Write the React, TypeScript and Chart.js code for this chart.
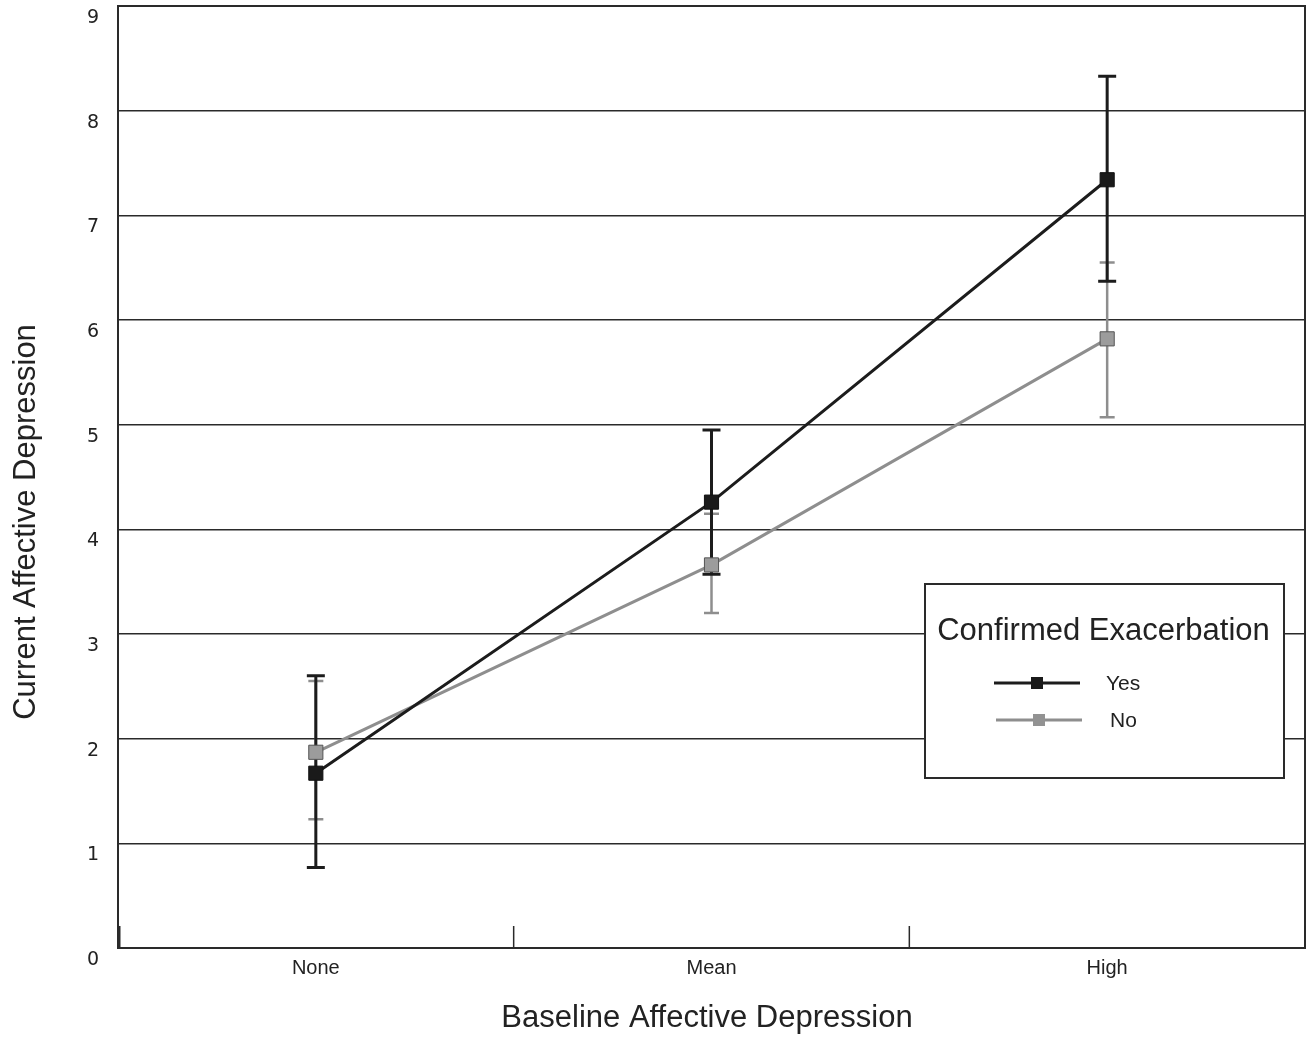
import React, { useEffect, useRef } from "react";
import { Chart, registerables } from "chart.js";
Chart.register(...registerables);

const categories = ["None", "Mean", "High"];
const seriesLabels = ["Yes", "No"];
const yesMeans = [1.67, 4.26, 7.34];
const yesLower = [0.77, 3.57, 6.37];
const yesUpper = [2.6, 4.95, 8.33];
const noMeans = [1.87, 3.66, 5.82];
const noLower = [1.23, 3.2, 5.07];
const noUpper = [2.55, 4.15, 6.55];
const yTickValues = [0, 1, 2, 3, 4, 5, 6, 7, 8, 9];
const legendTitle = "Confirmed Exacerbation";
const xTitle = "Baseline Affective Depression";
const yTitle = "Current Affective Depression";

const DARK = "#1c1c1c";
const GREY = "#8e8e8e";
const AXIS = "#2a2a2a";
const SANS = "'Liberation Sans', Arial, sans-serif";

export default function App() {
  const ref = useRef<HTMLCanvasElement | null>(null);
  useEffect(() => {
    const canvas = ref.current;
    if (!canvas) return;

    const errorBars = {
      id: "errorBars",
      beforeDatasetsDraw(chart: any) {
        const { ctx, scales } = chart;
        const xs = scales.x, ys = scales.y;
        const sets = [
          { lo: noLower, hi: noUpper, color: GREY, lw: 2.5, cap: 15 },
          { lo: yesLower, hi: yesUpper, color: DARK, lw: 3, cap: 18 },
        ];
        ctx.save();
        for (const s of sets) {
          ctx.strokeStyle = s.color;
          ctx.lineWidth = s.lw;
          for (let i = 0; i < categories.length; i++) {
            const x = xs.getPixelForValue(i);
            const y1 = ys.getPixelForValue(s.lo[i]);
            const y2 = ys.getPixelForValue(s.hi[i]);
            ctx.beginPath();
            ctx.moveTo(x, y1);
            ctx.lineTo(x, y2);
            ctx.moveTo(x - s.cap / 2, y1);
            ctx.lineTo(x + s.cap / 2, y1);
            ctx.moveTo(x - s.cap / 2, y2);
            ctx.lineTo(x + s.cap / 2, y2);
            ctx.stroke();
          }
        }
        ctx.restore();
      },
    };

    const frame = {
      id: "frame",
      beforeDatasetsDraw(chart: any) {
        const { ctx, chartArea, scales } = chart;
        const xs = scales.x;
        ctx.save();
        ctx.strokeStyle = AXIS;
        ctx.lineWidth = 2;
        ctx.beginPath();
        ctx.moveTo(chartArea.left, chartArea.top);
        ctx.lineTo(chartArea.right, chartArea.top);
        ctx.lineTo(chartArea.right, chartArea.bottom);
        ctx.stroke();
        const half = (xs.getPixelForValue(1) - xs.getPixelForValue(0)) / 2;
        for (let i = 0; i <= categories.length; i++) {
          const x = i === categories.length ? chartArea.right : xs.getPixelForValue(i) - half;
          ctx.lineWidth = i === 0 ? 3 : 1.5;
          ctx.beginPath();
          ctx.moveTo(x + (i === 0 ? 1 : 0), chartArea.bottom);
          ctx.lineTo(x + (i === 0 ? 1 : 0), chartArea.bottom - 22);
          ctx.stroke();
        }
        ctx.restore();
      },
    };

    const overlay = {
      id: "overlay",
      afterDraw(chart: any) {
        const { ctx } = chart;
        ctx.save();
        // axis titles
        ctx.fillStyle = "#222";
        ctx.font = `31px ${SANS}`;
        ctx.textAlign = "center";
        ctx.textBaseline = "middle";
        ctx.fillText(xTitle, 707, 1018);
        ctx.save();
        ctx.translate(26, 522);
        ctx.rotate(-Math.PI / 2);
        ctx.fillText(yTitle, 0, 0);
        ctx.restore();

        // legend
        const bx = 925, by = 584, bw = 359, bh = 194;
        ctx.fillStyle = "#ffffff";
        ctx.fillRect(bx, by, bw, bh);
        ctx.strokeStyle = AXIS;
        ctx.lineWidth = 2;
        ctx.strokeRect(bx, by, bw, bh);
        ctx.fillStyle = "#222";
        ctx.font = `31px ${SANS}`;
        ctx.textAlign = "center";
        ctx.fillText(legendTitle, bx + bw / 2 - 1, by + 47);
        const entries = [
          { label: seriesLabels[0], color: DARK, fill: "#1a1a1a", y: by + 99, x0: bx + 69, text: bx + 181 },
          { label: seriesLabels[1], color: GREY, fill: "#929292", y: by + 136, x0: bx + 71, text: bx + 185 },
        ];
        for (const e of entries) {
          ctx.strokeStyle = e.color;
          ctx.lineWidth = 3;
          ctx.beginPath();
          ctx.moveTo(e.x0, e.y);
          ctx.lineTo(e.x0 + 86, e.y);
          ctx.stroke();
          ctx.fillStyle = e.fill;
          ctx.fillRect(e.x0 + 43 - 6, e.y - 6, 12, 12);
          ctx.fillStyle = "#222";
          ctx.font = `21px ${SANS}`;
          ctx.textAlign = "left";
          ctx.fillText(e.label, e.text, e.y + 1);
        }
        ctx.restore();
      },
    };

    const chart = new Chart(canvas, {
      type: "line",
      data: {
        labels: categories,
        datasets: [
          {
            label: seriesLabels[0],
            data: yesMeans,
            borderColor: DARK,
            backgroundColor: "#1a1a1a",
            borderWidth: 3,
            pointStyle: "rect",
            pointRadius: 10,
            pointBorderColor: "#111",
            pointBorderWidth: 1,
            pointBackgroundColor: "#1a1a1a",
            tension: 0,
          },
          {
            label: seriesLabels[1],
            data: noMeans,
            borderColor: GREY,
            backgroundColor: "#999",
            borderWidth: 3,
            pointStyle: "rect",
            pointRadius: 10,
            pointBorderColor: "#555",
            pointBorderWidth: 1,
            pointBackgroundColor: "#9c9c9c",
            tension: 0,
          },
        ],
      },
      options: {
        responsive: false,
        animation: false,
        layout: { autoPadding: false, padding: { top: 6, right: 9, left: 0, bottom: 0 } },
        plugins: { legend: { display: false }, tooltip: { enabled: false } },
        scales: {
          x: {
            type: "category",
            offset: true,
            grid: { display: false, drawTicks: false },
            border: { display: true, color: AXIS, width: 2 },
            ticks: { color: "#222", font: { family: SANS, size: 20 }, padding: 8 },
            afterFit(scale: any) {
              scale.height = 90;
              scale.paddingLeft = 0;
              scale.paddingRight = 0;
            },
          },
          y: {
            min: 0,
            max: 9,
            afterBuildTicks(scale: any) {
              scale.ticks = yTickValues.map((v) => ({ value: v }));
            },
            grid: { color: AXIS, lineWidth: 1.5, drawTicks: false },
            border: { display: true, color: AXIS, width: 2 },
            ticks: {
              color: "#222",
              font: { family: "'DejaVu Sans', sans-serif", size: 19, lineHeight: 0.5 },
              padding: 19,
              labelOffset: 12,
            },
            afterFit(scale: any) {
              scale.width = 118;
              scale.paddingTop = 0;
              scale.paddingBottom = 0;
            },
          },
        },
      },
      plugins: [frame, errorBars, overlay],
    } as any);
    return () => chart.destroy();
  }, []);

  return (
    <div style={{ position: "absolute", left: 0, top: 0, width: 1314, height: 1038, background: "#fff" }}>
      <canvas ref={ref} width={1314} height={1038} />
    </div>
  );
}
